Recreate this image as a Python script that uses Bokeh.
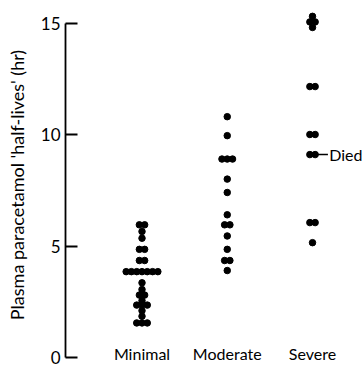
from collections import Counter
from bokeh.plotting import figure
from bokeh.models import FixedTicker, Range1d, ColumnDataSource
from bokeh.embed import file_html
from bokeh.resources import INLINE
from bokeh.core.properties import value

# ---- data ----
categories = ["Minimal", "Moderate", "Severe"]
minimal = [5.95, 5.95, 5.65, 5.35, 4.85, 4.85, 4.35, 4.35,
           3.85, 3.85, 3.85, 3.85, 3.85, 3.85, 3.85,
           3.35, 3.05, 2.8, 2.8, 2.55, 2.35, 2.35, 2.35, 2.1, 1.85,
           1.55, 1.55, 1.55]
moderate = [10.8, 9.95, 8.9, 8.9, 8.9, 8.0, 7.4, 6.4, 5.95, 5.95, 5.45,
            4.85, 4.35, 4.35, 3.9]
severe = [15.3, 15.05, 15.05, 14.8, 12.15, 12.15, 10.0, 10.0, 9.1, 9.1,
          6.05, 6.05, 5.15]
y_ticks = [0, 5, 10, 15]
y_label = "Plasma paracetamol 'half-lives' (hr)"
died_value = 9.1
died_text = "Died"

FONT = "Lato"
DODGE = 0.062  # horizontal spacing of tied dots (x units)

# ---- build dot positions (tied values spread side by side) ----
xs, ys = [], []
for i, vals in enumerate([minimal, moderate, severe]):
    centre = i + 1
    counts = Counter(vals)
    for v, n in counts.items():
        for k in range(n):
            xs.append(centre + (k - (n - 1) / 2) * DODGE)
            ys.append(v)
src = ColumnDataSource(dict(x=xs, y=ys))

p = figure(width=362, height=369, output_backend="svg", toolbar_location=None,
           x_axis_type=None,
           x_range=Range1d(0.1026, 3.5865), y_range=Range1d(-0.538, 16.01),
           min_border_left=65, min_border_right=0, min_border_top=0,
           min_border_bottom=0)
p.outline_line_color = None
p.grid.visible = False
p.background_fill_color = "white"
p.border_fill_color = "white"

p.scatter("x", "y", source=src, size=6.5, color="black")

# y axis
ax = p.yaxis[0]
ax.ticker = FixedTicker(ticks=y_ticks)
ax.bounds = (y_ticks[0], y_ticks[-1])
ax.minor_tick_line_color = None
ax.major_tick_in = 12
ax.major_tick_out = 0
ax.major_tick_line_width = 1.8
ax.axis_line_width = 1.8
ax.axis_line_color = "black"
ax.major_tick_line_color = "black"
ax.major_label_standoff = 5
ax.major_label_text_font = FONT
ax.major_label_text_font_size = "17px"
ax.major_label_text_color = "black"
ax.axis_label = y_label
ax.axis_label_text_font = FONT
ax.axis_label_text_font_size = "18px"
ax.axis_label_text_font_style = "normal"
ax.axis_label_text_color = "black"
ax.axis_label_standoff = 10

# category labels under the columns
p.text(x=[1, 2, 3], y=[0.2] * 3, text=categories, text_align="center",
       text_baseline="middle", text_font=value(FONT),
       text_font_size="16px", text_color="black")

# "Died" annotation
x_dot = 3 + DODGE / 2
p.segment(x0=[x_dot], y0=[died_value], x1=[x_dot + 0.15], y1=[died_value],
          line_color="black", line_width=1.5)
p.text(x=[x_dot + 0.165], y=[died_value], text=[died_text], text_align="left",
       text_baseline="middle", text_font=value(FONT), text_font_size="16px",
       text_color="black")

open("out.html", "w").write(file_html(p, INLINE))
